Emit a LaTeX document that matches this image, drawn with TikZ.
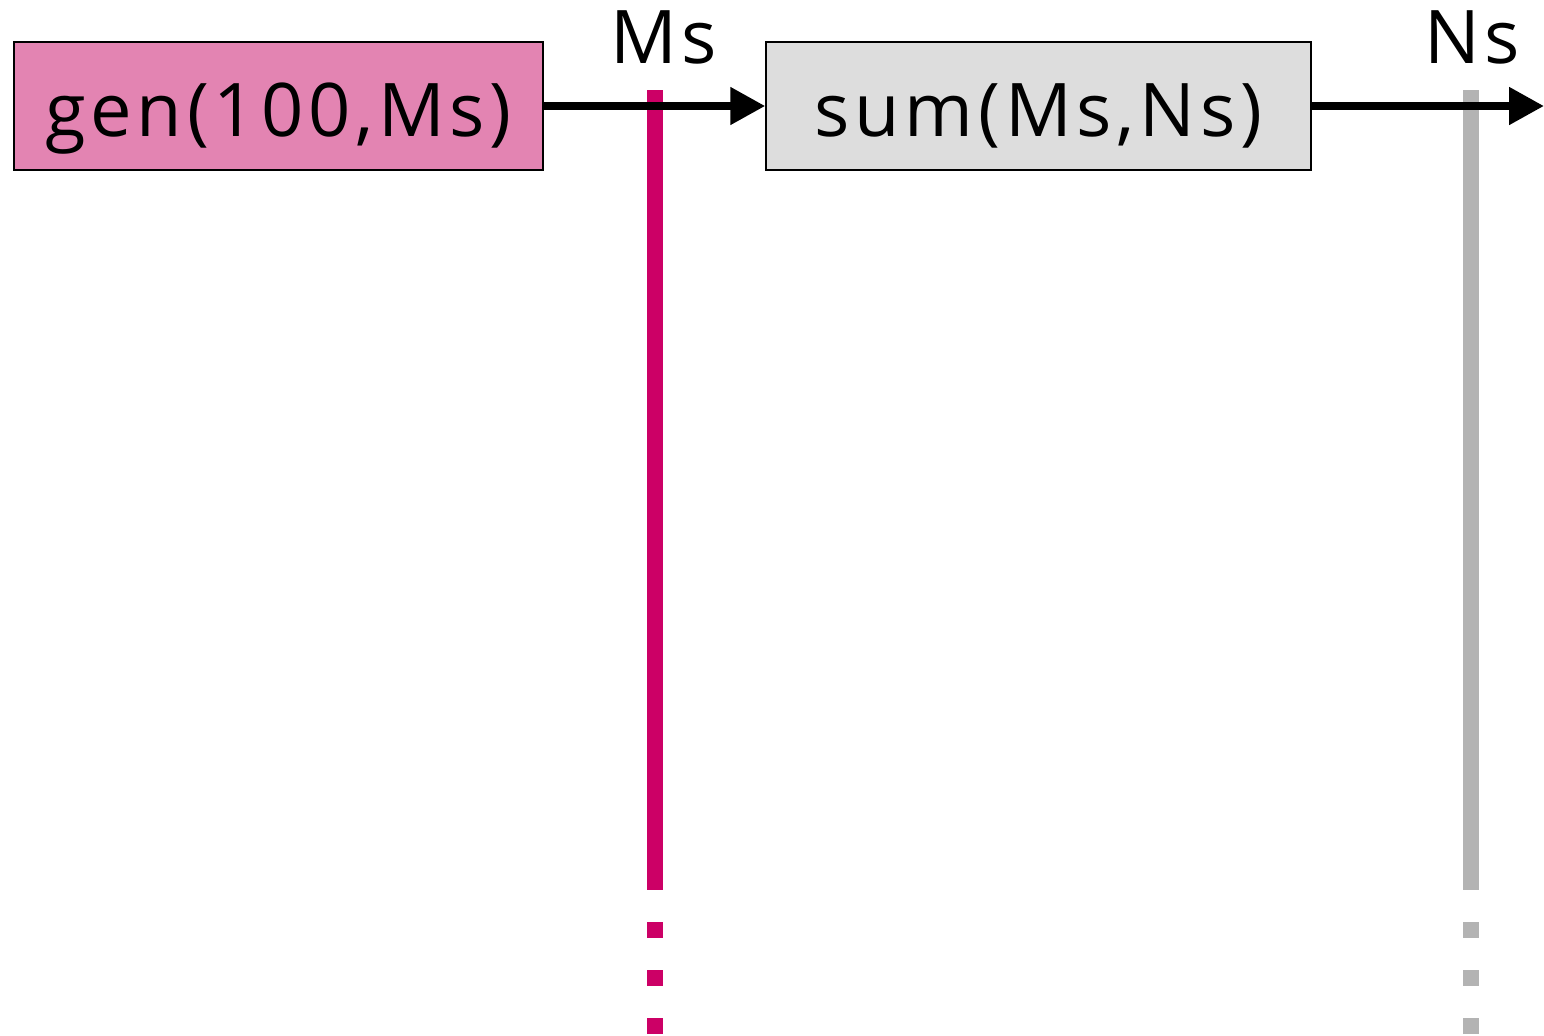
\documentclass[tikz,border=0pt]{standalone}
\usepackage{fontspec}
\setmainfont{Open Sans}[LetterSpace=6.5]
\usetikzlibrary{arrows.meta}
\definecolor{genfill}{HTML}{E384B2}
\definecolor{sumfill}{HTML}{DDDDDD}
\definecolor{msline}{HTML}{CC0066}
\definecolor{nsline}{HTML}{B3B3B3}
\begin{document}
\begin{tikzpicture}[x=0.5pt,y=-0.5pt,
  procbox/.style={draw=black, line width=0.75pt, minimum width=264.5pt, minimum height=64pt, inner sep=0pt,
    text height=30pt, text depth=0pt, font=\fontsize{37}{40}\selectfont},
  flow/.style={line width=4pt, -{Triangle[length=17.5pt,width=18pt]}},
  stream/.style={line width=8pt},
  streamdots/.style={line width=8pt, dash pattern=on 8pt off 16pt},
  streamlabel/.style={anchor=base, inner sep=0pt, font=\fontsize{37}{40}\selectfont}]
\useasboundingbox (0,0) rectangle (1544,1035);

% streams
\draw[stream, msline] (654.5,90) -- (654.5,890);
\draw[streamdots, msline] (654.5,922) -- (654.5,1035);
\draw[stream, nsline] (1470.5,90) -- (1470.5,890);
\draw[streamdots, nsline] (1470.5,922) -- (1470.5,1035);
\node[streamlabel] (mslabel) at (663.5,63) {Ms};
\node[streamlabel] (nslabel) at (1472,63) {Ns};

% processes
\node[procbox, fill=genfill] (gen) at (278.5,106) {gen(100,Ms)};
\node[procbox, fill=sumfill, minimum width=272.5pt] (sum) at (1038.5,106) {sum(Ms,Ns)};
\coordinate (out) at (1544,106);

% connectors
\draw[flow] (gen.east) -- (sum.west);
\draw[flow] (sum.east) -- (out);
\end{tikzpicture}
\end{document}
